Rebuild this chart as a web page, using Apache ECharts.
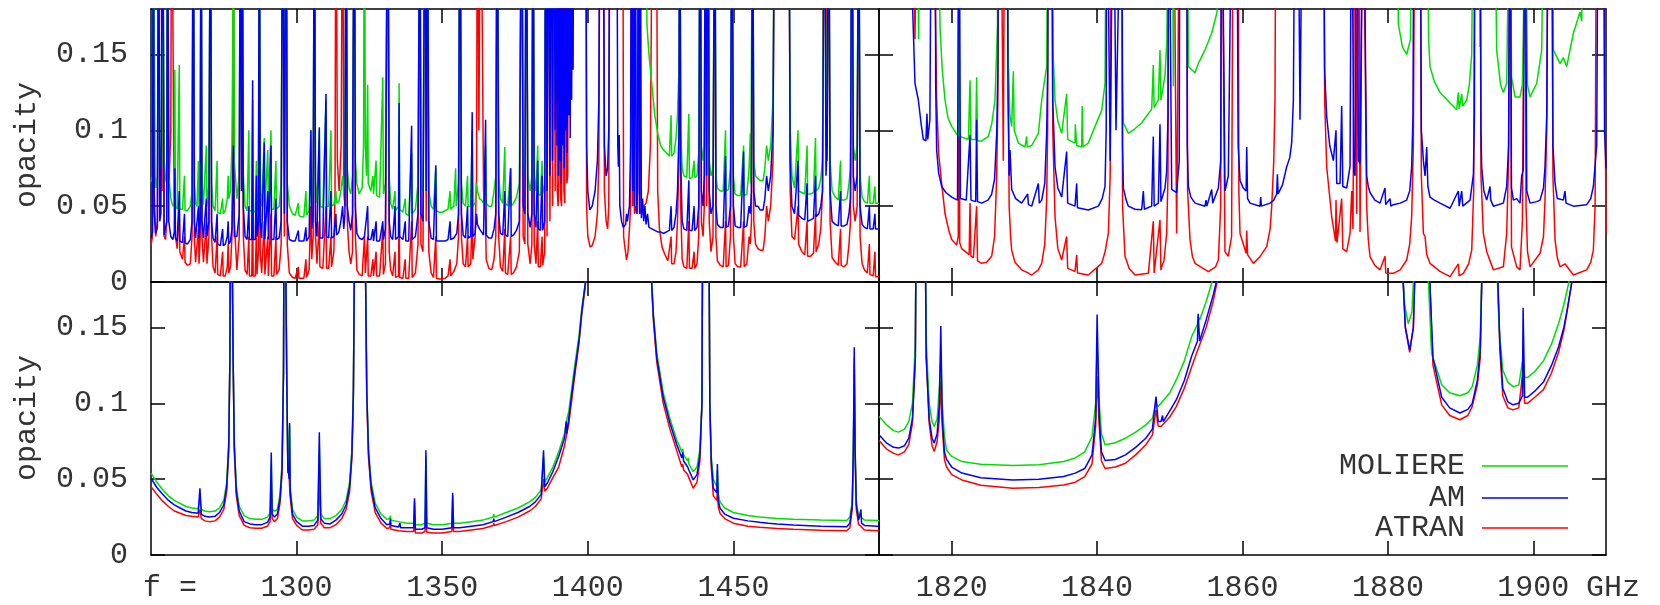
<!DOCTYPE html>
<html><head><meta charset="utf-8">
<script src="https://cdn.jsdelivr.net/npm/echarts@6/dist/echarts.min.js"></script>
<style>html,body{margin:0;padding:0;background:#fff}#c{width:1660px;height:605px}</style>
</head><body><div id="c"></div><script>
// off-scale marker (above the 0.18 axis maximum)
const T = 0.3;
const seriesNames = ['ATRAN', 'MOLIERE', 'AM'];
const yTicks = [0, 0.05, 0.1, 0.15];
const xTicksLeft = [1300, 1350, 1400, 1450];
const xTicksRight = [1820, 1840, 1860, 1880, 1900];

// ---------- top-left panel ----------
const tlBlue = [[1250.0,0.029],[1250.5,0.033],[1250.8,T],[1251.1,0.045],[1251.6,0.032],[1252.2,0.036],[1252.6,T],[1253.0,0.04],[1253.4,0.045],[1254.0,T],[1254.5,0.031],[1255.0,0.03],[1255.4,0.04],[1255.7,T],[1256.1,0.04],[1256.8,0.03],[1257.5,0.028],[1258.0,0.033],[1258.2,0.075],[1258.4,0.029],[1259.0,0.027],[1259.7,0.06],[1259.9,0.027],[1260.8,0.026],[1261.5,0.045],[1261.7,0.026],[1262.5,0.025],[1263.5,0.028],[1264.1,0.04],[1264.5,T],[1264.9,0.04],[1265.3,0.029],[1265.8,0.028],[1266.3,0.05],[1266.5,0.029],[1266.9,0.04],[1267.2,T],[1267.5,0.04],[1268.0,0.029],[1268.5,0.028],[1269.0,0.055],[1269.2,0.03],[1269.9,0.04],[1270.4,T],[1270.8,0.04],[1271.3,0.029],[1272.0,0.026],[1272.7,0.045],[1272.9,0.025],[1273.8,0.024],[1274.6,0.035],[1274.8,0.024],[1275.5,0.025],[1276.2,0.03],[1276.5,0.04],[1276.7,0.025],[1277.3,0.027],[1277.8,0.035],[1278.3,0.09],[1278.6,0.03],[1279.5,0.03],[1280.3,0.045],[1280.7,T],[1281.1,0.06],[1281.3,T],[1281.7,0.05],[1282.3,0.03],[1283.0,0.028],[1283.6,0.05],[1283.8,0.028],[1284.6,0.028],[1284.9,0.133],[1285.1,0.028],[1285.8,0.028],[1286.2,0.07],[1286.4,0.03],[1286.9,0.04],[1287.2,T],[1287.5,0.04],[1288.0,0.029],[1288.9,0.092],[1289.1,0.028],[1289.7,0.028],[1290.1,0.06],[1290.3,0.028],[1291.2,0.09],[1291.4,0.028],[1292.2,0.028],[1292.9,0.055],[1293.1,0.028],[1294.0,0.029],[1294.7,0.04],[1295.2,T],[1295.8,0.045],[1296.4,T],[1296.8,0.04],[1297.5,0.028],[1298.6,0.027],[1299.5,0.027],[1300.6,0.034],[1300.8,0.027],[1301.5,0.027],[1302.5,0.027],[1303.2,0.036],[1303.4,0.027],[1304.3,0.03],[1304.9,0.1],[1305.2,0.035],[1305.7,0.045],[1306.1,T],[1306.5,0.04],[1307.0,0.03],[1307.8,0.102],[1308.0,0.029],[1309.0,0.029],[1310.1,0.124],[1310.3,0.03],[1311.0,0.029],[1311.8,0.06],[1312.0,0.029],[1312.8,0.03],[1313.5,0.045],[1313.7,0.031],[1314.5,0.033],[1315.2,0.04],[1315.8,0.05],[1316.2,0.035],[1316.6,0.045],[1317.0,T],[1317.4,0.05],[1318.0,0.04],[1318.6,0.034],[1319.2,0.045],[1319.8,T],[1320.2,0.05],[1320.7,0.032],[1321.5,0.029],[1322.5,0.028],[1323.3,0.03],[1324.4,0.05],[1324.6,0.028],[1325.5,0.028],[1326.2,0.035],[1326.4,0.027],[1327.3,0.04],[1327.5,0.027],[1328.5,0.027],[1329.6,0.04],[1329.8,0.028],[1330.5,0.035],[1331.3,T],[1331.8,0.04],[1332.3,0.03],[1333.0,0.028],[1333.8,0.05],[1334.0,0.028],[1335.0,0.03],[1335.2,0.118],[1335.4,0.03],[1336.5,0.028],[1337.3,0.04],[1337.5,0.027],[1338.5,0.027],[1339.5,0.103],[1339.7,0.028],[1340.8,0.03],[1341.7,0.045],[1342.3,T],[1342.7,0.045],[1343.4,0.04],[1344.1,T],[1344.5,0.06],[1344.9,T],[1345.4,0.04],[1346.2,0.029],[1347.0,0.028],[1347.8,0.077],[1348.0,0.027],[1349.0,0.027],[1350.0,0.027],[1351.0,0.027],[1352.0,0.028],[1352.7,0.04],[1352.9,0.028],[1354.0,0.029],[1355.0,0.032],[1355.6,0.045],[1356.1,T],[1356.6,0.045],[1357.2,0.031],[1358.0,0.029],[1358.7,0.05],[1358.9,0.029],[1359.8,0.03],[1360.3,0.112],[1360.5,0.03],[1361.3,0.032],[1361.8,0.045],[1362.1,0.038],[1362.8,0.035],[1363.5,0.033],[1364.2,0.031],[1364.9,0.107],[1365.1,0.031],[1366.0,0.029],[1367.0,0.029],[1367.8,0.035],[1368.4,0.045],[1368.9,T],[1369.4,0.045],[1370.0,0.032],[1370.8,0.031],[1371.5,0.06],[1371.7,0.031],[1372.5,0.03],[1373.5,0.075],[1373.7,0.03],[1374.5,0.031],[1375.5,0.034],[1376.5,0.04],[1377.3,T],[1377.8,0.05],[1378.4,0.045],[1378.9,T],[1379.4,0.045],[1380.2,0.036],[1380.8,0.045],[1381.2,T],[1381.6,0.045],[1382.2,0.036],[1382.8,0.08],[1383.0,0.035],[1383.7,0.034],[1384.3,0.07],[1384.5,0.034],[1385.2,0.04],[1385.5,T],[1386.0,0.06],[1386.5,T],[1387.0,0.07],[1387.4,T],[1387.9,0.08],[1388.3,T],[1388.8,0.1],[1389.2,T],[1389.45,0.09],[1389.7,T],[1389.95,0.07],[1390.2,T],[1390.45,0.08],[1390.7,T],[1390.95,0.065],[1391.2,T],[1391.45,0.09],[1391.7,T],[1391.95,0.075],[1392.2,T],[1392.45,0.1],[1392.7,T],[1392.95,0.085],[1393.2,T],[1393.45,0.11],[1393.7,T],[1393.95,0.095],[1394.2,T],[1394.45,0.12],[1394.7,T],[1394.95,0.14],[1395.2,T],[1399.3,T],[1399.6,0.09],[1400.0,0.06],[1400.7,0.0475],[1401.5,0.05],[1402.5,0.06],[1403.3,0.08],[1403.8,0.12],[1404.2,T],[1405.3,T],[1405.7,0.09],[1406.3,0.07],[1406.8,0.075],[1407.2,0.1],[1407.6,T],[1409.9,T],[1410.3,0.09],[1410.5,0.076],[1410.8,0.097],[1411.0,0.05],[1411.6,0.04],[1412.2,0.036],[1413.0,0.038],[1413.3,0.045],[1413.6,0.04],[1414.3,0.05],[1414.7,0.09],[1415.0,T],[1415.4,0.06],[1415.7,T],[1416.0,0.05],[1416.3,T],[1416.7,0.045],[1417.1,0.06],[1417.4,T],[1417.8,0.045],[1418.0,T],[1418.4,0.042],[1418.8,0.055],[1419.2,0.04],[1419.6,0.05],[1420.0,0.038],[1420.5,0.045],[1421.0,0.036],[1422.0,0.035],[1423.0,0.034],[1424.0,0.033],[1425.0,0.033],[1425.9,0.032],[1427.0,0.033],[1428.0,0.034],[1428.6,0.05],[1428.8,0.034],[1429.6,0.036],[1430.3,0.045],[1430.8,0.06],[1431.3,0.1],[1431.6,T],[1431.9,0.08],[1432.4,0.04],[1433.0,0.035],[1434.0,0.034],[1434.7,0.067],[1434.9,0.034],[1435.8,0.034],[1436.5,0.05],[1436.7,0.034],[1437.5,0.036],[1438.1,0.05],[1438.6,T],[1439.0,0.06],[1439.6,0.05],[1440.0,0.07],[1440.4,T],[1440.8,0.07],[1441.3,T],[1441.7,0.06],[1442.3,0.045],[1443.0,0.05],[1443.6,T],[1444.0,0.05],[1444.5,0.038],[1445.5,0.036],[1446.5,0.036],[1447.3,0.083],[1447.5,0.036],[1448.3,0.037],[1449.0,0.05],[1449.5,T],[1450.0,0.05],[1450.6,0.037],[1451.5,0.036],[1452.5,0.036],[1453.5,0.086],[1453.7,0.036],[1454.6,0.037],[1455.4,0.05],[1455.8,0.045],[1456.2,0.06],[1456.6,T],[1457.0,0.06],[1457.6,0.05],[1458.4,0.05],[1459.2,0.0475],[1460.2,0.0475],[1460.8,0.055],[1461.4,0.07],[1462.0,0.06],[1462.8,0.07],[1463.6,0.1],[1464.2,T],[1469.0,T],[1469.5,0.08],[1470.1,0.05],[1471.0,0.045],[1472.2,0.08],[1472.4,0.044],[1473.5,0.042],[1474.5,0.041],[1475.3,0.065],[1475.5,0.04],[1476.5,0.041],[1477.5,0.042],[1478.2,0.07],[1478.4,0.043],[1479.3,0.045],[1480.0,0.05],[1480.6,0.06],[1481.3,T],[1481.8,0.07],[1482.2,0.09],[1482.7,T],[1483.2,0.06],[1483.9,0.04],[1485.0,0.038],[1486.0,0.037],[1486.8,0.06],[1487.0,0.037],[1488.0,0.037],[1489.0,0.038],[1489.7,0.045],[1490.2,0.055],[1490.7,T],[1491.2,0.07],[1491.8,0.06],[1492.5,0.07],[1493.0,T],[1493.5,0.05],[1494.2,0.038],[1495.0,0.036],[1496.0,0.035],[1496.7,0.05],[1496.9,0.035],[1498.0,0.035],[1498.6,0.045],[1498.8,0.035],[1500.0,0.035]];

const tlGreen = [[1250.0,0.066],[1250.5,0.07],[1250.8,T],[1251.1,T],[1251.4,0.07],[1251.7,0.062],[1252.2,0.07],[1252.6,T],[1253.0,0.075],[1253.4,0.09],[1253.7,0.075],[1254.0,T],[1254.5,0.065],[1255.0,0.068],[1255.4,0.08],[1255.7,T],[1256.1,0.07],[1256.8,0.055],[1257.5,0.05],[1258.0,0.052],[1258.2,0.14],[1258.4,0.05],[1259.0,0.048],[1259.7,0.143],[1259.9,0.048],[1260.8,0.048],[1261.5,0.07],[1261.7,0.047],[1262.5,0.047],[1263.5,0.05],[1264.1,0.06],[1264.5,T],[1264.9,0.065],[1265.3,0.052],[1265.8,0.05],[1266.3,0.08],[1266.5,0.05],[1266.9,0.065],[1267.2,T],[1267.5,0.065],[1268.0,0.051],[1268.5,0.05],[1269.0,0.09],[1269.2,0.05],[1269.9,0.065],[1270.4,T],[1270.8,0.065],[1271.3,0.05],[1272.0,0.047],[1272.7,0.08],[1272.9,0.046],[1273.8,0.045],[1274.6,0.055],[1274.8,0.045],[1275.5,0.047],[1276.2,0.055],[1276.5,0.07],[1276.7,0.055],[1277.3,0.06],[1277.8,0.09],[1278.0,0.14],[1278.3,T],[1278.6,0.08],[1279.5,0.055],[1280.3,0.07],[1280.7,T],[1281.1,0.09],[1281.3,T],[1281.7,0.07],[1282.3,0.05],[1283.0,0.047],[1283.6,0.1],[1283.8,0.047],[1284.6,0.047],[1284.9,0.12],[1285.1,0.047],[1285.8,0.046],[1286.2,0.08],[1286.4,0.047],[1286.9,0.06],[1287.2,T],[1287.5,0.06],[1288.0,0.05],[1288.9,0.095],[1289.1,0.048],[1289.7,0.048],[1290.1,0.087],[1290.3,0.048],[1291.2,0.1],[1291.4,0.048],[1292.2,0.048],[1292.9,0.08],[1293.1,0.048],[1294.0,0.05],[1294.7,0.065],[1295.2,T],[1295.8,0.07],[1296.4,T],[1296.8,0.065],[1297.5,0.05],[1298.6,0.045],[1299.5,0.044],[1300.6,0.052],[1300.8,0.044],[1301.5,0.043],[1302.5,0.043],[1303.2,0.06],[1303.4,0.044],[1304.3,0.047],[1304.9,0.1],[1305.2,0.055],[1305.7,0.07],[1306.1,T],[1306.5,0.065],[1307.0,0.052],[1307.8,0.1],[1308.0,0.05],[1309.0,0.049],[1310.1,0.12],[1310.3,0.05],[1311.0,0.05],[1311.8,0.1],[1312.0,0.05],[1312.8,0.051],[1313.5,0.06],[1313.7,0.052],[1314.5,0.053],[1315.2,0.06],[1315.8,0.07],[1316.2,0.058],[1316.6,0.07],[1317.0,T],[1317.4,0.075],[1318.0,0.062],[1318.6,0.058],[1319.2,0.07],[1319.8,T],[1320.2,0.08],[1320.7,0.065],[1321.5,0.058],[1322.5,0.062],[1323.0,0.09],[1323.3,T],[1323.6,0.09],[1324.0,0.07],[1324.4,0.13],[1324.6,0.065],[1325.5,0.06],[1326.2,0.07],[1326.4,0.058],[1327.3,0.08],[1327.5,0.057],[1328.5,0.056],[1329.6,0.135],[1329.8,0.058],[1330.5,0.065],[1331.3,T],[1331.8,0.07],[1332.3,0.052],[1333.0,0.048],[1333.8,0.06],[1334.0,0.047],[1335.0,0.05],[1335.2,0.131],[1335.4,0.048],[1336.5,0.046],[1337.3,0.055],[1337.5,0.045],[1338.5,0.044],[1339.5,0.085],[1339.7,0.045],[1340.8,0.048],[1341.7,0.065],[1342.3,T],[1342.7,0.065],[1343.4,0.06],[1344.1,T],[1344.5,0.08],[1344.9,T],[1345.4,0.06],[1346.2,0.05],[1347.0,0.048],[1347.8,0.075],[1348.0,0.047],[1349.0,0.046],[1350.0,0.046],[1351.0,0.047],[1352.0,0.048],[1352.7,0.06],[1352.9,0.048],[1354.0,0.05],[1354.6,0.075],[1354.8,0.05],[1355.6,0.065],[1356.1,T],[1356.6,0.065],[1357.2,0.052],[1358.0,0.05],[1358.7,0.07],[1358.9,0.05],[1359.8,0.05],[1360.3,0.1],[1360.5,0.05],[1361.3,0.052],[1361.8,0.065],[1362.1,0.06],[1362.8,0.055],[1363.5,0.054],[1364.2,0.052],[1364.9,0.09],[1365.1,0.052],[1366.0,0.05],[1367.0,0.05],[1367.8,0.06],[1368.4,0.07],[1368.9,T],[1369.4,0.07],[1370.0,0.055],[1370.8,0.052],[1371.5,0.089],[1371.7,0.052],[1372.5,0.05],[1373.5,0.075],[1373.7,0.05],[1374.5,0.052],[1375.5,0.056],[1376.5,0.065],[1377.3,T],[1377.8,0.075],[1378.4,0.07],[1378.9,T],[1379.4,0.07],[1380.2,0.06],[1380.8,0.07],[1381.2,T],[1381.6,0.07],[1382.2,0.06],[1382.8,0.09],[1383.0,0.058],[1383.7,0.057],[1384.3,0.08],[1384.5,0.058],[1385.2,0.065],[1385.5,T],[1386.0,0.08],[1386.5,T],[1387.0,0.09],[1387.4,T],[1387.9,0.1],[1388.3,T],[1388.8,0.12],[1389.2,T],[1420.0,T],[1420.3,0.17],[1421.0,0.15],[1422.0,0.13],[1423.0,0.11],[1424.0,0.098],[1425.0,0.09],[1426.0,0.087],[1427.0,0.085],[1428.0,0.083],[1428.6,0.11],[1428.8,0.083],[1429.6,0.085],[1430.3,0.095],[1430.8,0.11],[1431.3,0.14],[1431.6,T],[1431.9,0.1],[1432.4,0.075],[1433.0,0.07],[1434.0,0.069],[1434.7,0.111],[1434.9,0.068],[1435.8,0.069],[1436.5,0.08],[1436.7,0.069],[1437.5,0.07],[1438.1,0.085],[1438.6,T],[1439.0,0.09],[1439.6,0.08],[1440.0,0.09],[1440.4,T],[1440.8,0.09],[1441.3,T],[1441.7,0.08],[1442.3,0.07],[1443.0,0.075],[1443.6,T],[1444.0,0.07],[1444.5,0.062],[1445.5,0.06],[1446.5,0.06],[1447.3,0.1],[1447.5,0.06],[1448.3,0.061],[1449.0,0.075],[1449.5,T],[1450.0,0.07],[1450.6,0.058],[1451.5,0.057],[1452.5,0.057],[1453.5,0.09],[1453.7,0.057],[1454.6,0.058],[1455.4,0.075],[1455.8,0.098],[1456.0,0.065],[1456.6,T],[1457.0,0.08],[1457.6,0.07],[1458.4,0.068],[1459.2,0.067],[1460.2,0.067],[1460.8,0.075],[1461.4,0.09],[1462.0,0.08],[1462.8,0.09],[1463.6,0.12],[1464.2,T],[1469.0,T],[1469.5,0.1],[1470.1,0.07],[1471.0,0.062],[1472.2,0.1],[1472.4,0.06],[1473.5,0.059],[1474.5,0.058],[1475.3,0.09],[1475.5,0.058],[1476.5,0.058],[1477.5,0.059],[1478.2,0.095],[1478.4,0.06],[1479.3,0.062],[1480.0,0.068],[1480.6,0.08],[1481.3,T],[1481.8,0.09],[1482.2,0.11],[1482.7,T],[1483.2,0.08],[1483.9,0.06],[1485.0,0.056],[1486.0,0.054],[1486.8,0.08],[1487.0,0.054],[1488.0,0.054],[1489.0,0.055],[1489.7,0.065],[1490.2,0.075],[1490.7,T],[1491.2,0.09],[1491.8,0.08],[1492.5,0.09],[1493.0,T],[1493.5,0.07],[1494.2,0.056],[1495.0,0.053],[1496.0,0.052],[1496.7,0.07],[1496.9,0.052],[1498.0,0.052],[1498.6,0.063],[1498.8,0.052],[1500.0,0.052]];

const tlRed = [[1250.0,0.024],[1250.5,0.03],[1250.8,T],[1251.1,0.06],[1251.6,0.03],[1252.2,0.04],[1252.6,T],[1253.4,T],[1253.8,0.06],[1254.0,T],[1254.5,0.03],[1255.0,0.028],[1255.4,0.04],[1255.7,T],[1256.1,0.06],[1256.8,0.1],[1257.1,T],[1257.6,T],[1257.9,0.06],[1258.4,0.03],[1259.0,0.022],[1259.7,0.05],[1259.9,0.02],[1260.8,0.015],[1261.5,0.03],[1261.7,0.013],[1262.5,0.011],[1263.5,0.012],[1264.1,0.03],[1264.5,T],[1264.9,0.03],[1265.3,0.013],[1265.8,0.012],[1266.3,0.035],[1266.5,0.012],[1266.9,0.03],[1267.2,T],[1267.5,0.03],[1268.0,0.013],[1268.5,0.012],[1269.0,0.04],[1269.2,0.012],[1269.9,0.03],[1270.4,T],[1270.8,0.03],[1271.3,0.01],[1272.0,0.006],[1272.7,0.03],[1272.9,0.005],[1273.8,0.004],[1274.6,0.02],[1274.8,0.004],[1275.5,0.004],[1276.2,0.01],[1276.5,0.025],[1276.7,0.006],[1277.3,0.01],[1277.8,0.03],[1278.0,0.06],[1278.3,T],[1278.6,0.04],[1279.5,0.008],[1280.3,0.03],[1280.7,T],[1281.1,0.06],[1281.3,T],[1281.7,0.03],[1282.3,0.008],[1283.0,0.005],[1283.6,0.03],[1283.8,0.004],[1284.6,0.004],[1284.9,0.05],[1285.1,0.004],[1285.8,0.004],[1286.2,0.035],[1286.4,0.005],[1286.9,0.02],[1287.2,T],[1287.5,0.02],[1288.0,0.006],[1288.9,0.04],[1289.1,0.005],[1289.7,0.004],[1290.1,0.03],[1290.3,0.004],[1291.2,0.045],[1291.4,0.004],[1292.2,0.004],[1292.9,0.03],[1293.1,0.005],[1294.0,0.008],[1294.7,0.025],[1295.2,T],[1295.8,0.03],[1296.4,T],[1296.8,0.025],[1297.5,0.006],[1298.6,0.003],[1299.5,0.0025],[1300.6,0.01],[1300.8,0.0025],[1301.5,0.0025],[1302.5,0.0025],[1303.2,0.015],[1303.4,0.003],[1304.3,0.008],[1304.9,0.05],[1305.2,0.015],[1305.7,0.03],[1306.1,T],[1306.5,0.03],[1307.0,0.012],[1307.8,0.04],[1308.0,0.01],[1309.0,0.009],[1310.1,0.05],[1310.3,0.009],[1311.0,0.009],[1311.8,0.03],[1312.0,0.01],[1312.8,0.02],[1313.2,0.06],[1313.5,T],[1314.0,0.08],[1314.6,0.06],[1315.3,0.09],[1315.8,T],[1316.2,0.06],[1316.6,0.05],[1317.0,T],[1317.4,0.04],[1318.0,0.02],[1318.6,0.012],[1319.2,0.02],[1319.8,T],[1320.2,0.03],[1320.7,0.008],[1321.5,0.005],[1322.5,0.004],[1323.3,0.03],[1323.6,0.006],[1324.4,0.03],[1324.6,0.004],[1325.5,0.004],[1326.2,0.015],[1326.4,0.004],[1327.3,0.02],[1327.5,0.004],[1328.5,0.004],[1329.6,0.035],[1329.8,0.005],[1330.5,0.012],[1331.3,T],[1331.8,0.02],[1332.3,0.008],[1333.0,0.004],[1333.8,0.02],[1334.0,0.003],[1335.0,0.004],[1335.2,0.05],[1335.4,0.003],[1336.5,0.0025],[1337.3,0.015],[1337.5,0.0025],[1338.5,0.0025],[1339.5,0.04],[1339.7,0.003],[1340.8,0.006],[1341.7,0.025],[1342.3,T],[1342.7,0.025],[1343.4,0.02],[1344.1,T],[1344.5,0.04],[1344.9,T],[1345.4,0.02],[1346.2,0.006],[1347.0,0.003],[1347.8,0.03],[1348.0,0.0025],[1349.0,0.002],[1350.0,0.002],[1351.0,0.0025],[1352.0,0.004],[1352.7,0.015],[1352.9,0.004],[1354.0,0.007],[1355.0,0.012],[1355.6,0.03],[1356.1,T],[1356.6,0.03],[1357.2,0.012],[1358.0,0.01],[1358.7,0.03],[1358.9,0.01],[1359.8,0.012],[1360.3,0.05],[1360.5,0.015],[1361.3,0.03],[1361.8,0.07],[1362.1,T],[1362.6,0.1],[1363.2,T],[1363.8,T],[1364.2,0.06],[1364.9,0.04],[1365.1,0.015],[1366.0,0.009],[1367.0,0.008],[1367.8,0.015],[1368.4,0.03],[1368.9,T],[1369.4,0.03],[1370.0,0.01],[1370.8,0.007],[1371.5,0.035],[1371.7,0.006],[1372.5,0.005],[1373.5,0.03],[1373.7,0.005],[1374.5,0.006],[1375.5,0.01],[1376.5,0.02],[1377.3,T],[1377.8,0.03],[1378.4,0.025],[1378.9,T],[1379.4,0.025],[1380.2,0.012],[1380.8,0.025],[1381.2,T],[1381.6,0.025],[1382.2,0.012],[1382.8,0.04],[1383.0,0.01],[1383.7,0.01],[1384.3,0.03],[1384.5,0.011],[1385.2,0.02],[1385.5,T],[1386.0,0.03],[1386.5,T],[1387.0,0.04],[1387.4,T],[1387.9,0.05],[1388.3,T],[1388.8,0.06],[1389.2,T],[1389.5,0.06],[1389.8,0.05],[1390.1,0.07],[1390.4,T],[1390.7,0.055],[1391.0,0.05],[1391.4,T],[1391.8,0.06],[1392.1,0.052],[1392.4,T],[1392.8,0.065],[1393.1,0.07],[1393.4,T],[1399.3,T],[1399.6,0.05],[1400.0,0.03],[1400.8,0.023],[1401.5,0.024],[1402.5,0.03],[1403.3,0.045],[1403.8,0.08],[1404.2,T],[1405.3,T],[1405.7,0.06],[1406.3,0.04],[1406.8,0.035],[1407.2,0.05],[1407.6,T],[1412.0,T],[1412.3,0.03],[1412.8,0.022],[1413.3,0.0145],[1413.8,0.02],[1414.3,0.035],[1414.7,0.05],[1415.0,T],[1415.4,0.05],[1415.7,T],[1416.0,0.045],[1416.5,0.05],[1417.0,0.045],[1417.4,T],[1417.8,0.045],[1418.4,0.048],[1419.2,0.05],[1420.0,0.052],[1420.8,0.06],[1421.5,0.09],[1422.3,T],[1423.5,T],[1424.0,0.06],[1424.6,0.035],[1425.5,0.023],[1426.5,0.018],[1427.5,0.014],[1428.6,0.03],[1428.8,0.012],[1429.6,0.012],[1430.3,0.02],[1430.8,0.04],[1431.3,0.08],[1431.6,T],[1431.9,0.05],[1432.4,0.015],[1433.0,0.01],[1434.0,0.009],[1434.7,0.04],[1434.9,0.009],[1435.8,0.009],[1436.5,0.02],[1436.7,0.009],[1437.5,0.012],[1438.1,0.03],[1438.6,T],[1439.0,0.04],[1439.6,0.03],[1440.0,0.05],[1440.4,T],[1440.8,0.05],[1441.3,T],[1441.7,0.04],[1442.3,0.02],[1443.0,0.03],[1443.6,T],[1444.0,0.03],[1444.5,0.014],[1445.5,0.011],[1446.5,0.01],[1447.3,0.04],[1447.5,0.01],[1448.3,0.011],[1449.0,0.03],[1449.5,T],[1450.0,0.03],[1450.6,0.012],[1451.5,0.01],[1452.5,0.01],[1453.5,0.04],[1453.7,0.01],[1454.6,0.012],[1455.4,0.03],[1455.8,0.025],[1456.2,0.04],[1456.6,T],[1457.0,0.04],[1457.6,0.025],[1458.4,0.022],[1459.2,0.021],[1460.2,0.021],[1460.8,0.03],[1461.4,0.05],[1462.0,0.04],[1462.8,0.05],[1463.6,0.08],[1464.2,T],[1469.0,T],[1469.5,0.06],[1470.1,0.03],[1471.0,0.028],[1472.2,0.05],[1472.4,0.025],[1473.5,0.02],[1474.5,0.018],[1475.3,0.04],[1475.5,0.017],[1476.5,0.017],[1477.5,0.019],[1478.2,0.045],[1478.4,0.02],[1479.3,0.025],[1480.0,0.035],[1480.6,0.06],[1481.0,T],[1481.8,T],[1482.2,0.08],[1482.7,T],[1483.2,0.04],[1483.9,0.016],[1485.0,0.013],[1486.0,0.011],[1486.8,0.035],[1487.0,0.011],[1488.0,0.01],[1489.0,0.012],[1489.7,0.025],[1490.2,0.04],[1490.7,T],[1491.2,0.05],[1491.8,0.04],[1492.5,0.05],[1493.0,T],[1493.5,0.03],[1494.2,0.012],[1495.0,0.008],[1496.0,0.006],[1496.7,0.025],[1496.9,0.005],[1498.0,0.004],[1498.6,0.02],[1498.8,0.0035],[1500.0,0.0035]];

// ---------- top-right panel ----------
const trBlue = [[1810,T],[1814.4,T],[1814.5,0.2],[1814.95,0.131],[1815.41,0.12],[1815.8,0.104],[1816.1,0.094],[1816.45,0.093],[1816.6,0.111],[1816.7,0.094],[1817.0,0.107],[1817.24,T],[1817.7,T],[1817.8,0.13],[1817.93,0.087],[1818.2,0.072],[1818.62,0.063],[1819.2,0.059],[1820.0,0.056],[1820.8,0.054],[1821.0,T],[1821.2,0.055],[1822.0,0.054],[1822.52,0.097],[1822.65,0.054],[1823.3,0.053],[1823.43,0.107],[1823.55,0.053],[1824.12,0.052],[1825.0,0.054],[1825.5,0.058],[1825.9,0.068],[1826.19,0.098],[1826.35,0.14],[1826.45,T],[1827.6,T],[1827.75,0.12],[1827.9,0.07],[1828.02,0.087],[1828.25,0.061],[1828.8,0.055],[1829.62,0.052],[1830.45,0.058],[1830.55,0.051],[1831.0,0.05],[1831.92,0.065],[1832.05,0.052],[1832.38,0.054],[1832.8,0.065],[1833.06,0.098],[1833.2,0.14],[1833.29,T],[1833.75,T],[1833.9,0.12],[1834.21,0.076],[1834.6,0.062],[1835.13,0.056],[1835.81,0.086],[1835.95,0.052],[1836.96,0.05],[1837.19,0.065],[1837.3,0.049],[1838.79,0.0475],[1840.17,0.05],[1840.7,0.055],[1841.09,0.063],[1841.25,0.1],[1841.32,T],[1841.8,0.08],[1842.23,T],[1842.6,0.1],[1843.38,T],[1843.5,0.09],[1843.61,0.062],[1844.0,0.054],[1844.3,0.05],[1845.21,0.048],[1846.13,0.0476],[1846.36,0.06],[1846.5,0.048],[1847.51,0.05],[1847.73,0.096],[1847.85,0.05],[1848.42,0.052],[1848.65,0.104],[1848.78,0.053],[1849.34,0.062],[1849.57,0.073],[1849.75,0.11],[1849.85,T],[1850.1,T],[1850.26,0.061],[1850.94,0.059],[1851.3,0.08],[1851.4,T],[1852.32,T],[1852.4,0.09],[1852.55,0.063],[1852.9,0.056],[1853.47,0.052],[1854.84,0.05],[1854.98,0.054],[1855.1,0.05],[1855.76,0.061],[1855.9,0.052],[1856.68,0.062],[1857.0,0.08],[1857.13,T],[1857.4,T],[1857.59,0.06],[1858.05,0.07],[1858.6,T],[1859.2,T],[1859.4,0.09],[1859.66,0.067],[1860.1,0.062],[1860.5,0.06],[1860.58,0.089],[1860.7,0.055],[1861.04,0.052],[1862.41,0.05],[1862.5,0.056],[1862.6,0.05],[1863.79,0.052],[1864.3,0.054],[1864.7,0.058],[1864.8,0.071],[1864.9,0.058],[1865.5,0.064],[1866.08,0.076],[1866.5,0.082],[1866.77,0.092],[1867.0,0.12],[1867.23,T],[1867.6,T],[1867.91,0.107],[1868.3,T],[1871.12,T],[1871.3,0.14],[1871.58,0.109],[1872.0,0.09],[1872.5,0.08],[1872.86,0.1],[1872.96,0.065],[1873.42,0.065],[1873.64,0.116],[1873.8,0.063],[1874.33,0.062],[1874.79,0.076],[1875.02,T],[1875.3,0.073],[1875.48,0.07],[1875.71,T],[1875.95,0.08],[1876.17,0.078],[1876.6,T],[1876.85,T],[1877.08,0.07],[1877.3,0.063],[1877.54,0.059],[1878.2,0.054],[1878.92,0.052],[1879.6,0.062],[1879.7,0.051],[1880.29,0.055],[1880.4,0.05],[1880.75,0.051],[1881.7,0.052],[1882.58,0.054],[1883.0,0.06],[1883.27,0.076],[1883.45,0.11],[1883.6,T],[1884.42,T],[1884.6,0.1],[1884.88,0.08],[1885.11,0.07],[1885.34,0.089],[1885.5,0.063],[1885.79,0.056],[1886.4,0.054],[1887.17,0.052],[1888.55,0.0486],[1889.69,0.06],[1889.8,0.05],[1890.15,0.06],[1890.3,0.05],[1891.3,0.054],[1891.76,0.071],[1891.9,0.11],[1891.98,T],[1892.67,T],[1892.8,0.1],[1892.9,0.076],[1893.2,0.06],[1893.59,0.054],[1894.05,0.063],[1894.15,0.054],[1894.51,0.05],[1895.88,0.052],[1896.34,0.063],[1896.6,0.09],[1896.8,T],[1897.0,0.062],[1897.26,0.054],[1897.72,0.055],[1898.17,0.052],[1898.4,0.07],[1898.63,0.074],[1898.86,T],[1899.1,0.06],[1899.55,0.052],[1900.47,0.053],[1900.93,0.054],[1901.4,0.062],[1901.61,0.076],[1901.85,0.11],[1902.07,T],[1902.53,T],[1902.7,0.09],[1902.99,0.065],[1903.22,0.064],[1903.3,0.055],[1904.13,0.054],[1904.36,0.06],[1904.5,0.052],[1905.51,0.05],[1907.34,0.051],[1907.9,0.055],[1908.26,0.063],[1908.72,0.09],[1908.95,T],[1909.64,T],[1909.8,0.1],[1910,0.075]];

const trGreen = [[1810,T],[1815.2,T],[1815.45,0.16],[1815.7,T],[1818.1,T],[1818.39,0.168],[1818.7,0.14],[1819.08,0.12],[1819.5,0.108],[1820.0,0.1026],[1820.91,0.096],[1821.0,T],[1821.1,0.096],[1822.3,0.094],[1822.52,0.133],[1822.65,0.094],[1823.3,0.094],[1823.43,0.135],[1823.55,0.093],[1824.12,0.093],[1825.04,0.096],[1825.5,0.104],[1825.96,0.12],[1826.3,0.17],[1826.4,T],[1827.6,T],[1827.75,0.15],[1828.0,0.11],[1828.25,0.1026],[1828.48,0.139],[1828.6,0.1],[1829.17,0.0916],[1830.08,0.089],[1830.31,0.096],[1830.4,0.089],[1831.0,0.09],[1831.92,0.098],[1832.38,0.12],[1833.06,0.142],[1833.29,T],[1833.75,T],[1833.95,0.15],[1834.21,0.12],[1834.6,0.106],[1835.13,0.098],[1835.81,0.124],[1835.95,0.094],[1836.96,0.0916],[1837.0,0.104],[1837.2,0.09],[1837.88,0.089],[1837.95,0.116],[1838.05,0.089],[1838.79,0.0916],[1839.71,0.1026],[1840.63,0.113],[1841.09,0.131],[1841.3,T],[1843.4,T],[1843.5,0.13],[1843.61,0.105],[1844.3,0.098],[1845.21,0.101],[1846.13,0.105],[1847.51,0.114],[1847.73,0.143],[1847.85,0.115],[1848.42,0.12],[1848.65,0.153],[1848.78,0.12],[1849.34,0.136],[1849.6,0.16],[1849.85,T],[1850.3,T],[1850.49,0.129],[1850.7,T],[1852.4,T],[1852.55,0.142],[1853.47,0.138],[1853.92,0.144],[1854.84,0.153],[1855.76,0.164],[1856.5,0.178],[1856.7,T],[1881.21,T],[1881.44,0.17],[1882.0,0.155],[1882.58,0.15],[1883.1,0.16],[1883.4,T],[1885.34,T],[1885.6,0.16],[1885.79,0.142],[1886.4,0.132],[1887.17,0.125],[1888.55,0.118],[1889.46,0.1136],[1889.69,0.125],[1889.8,0.114],[1890.15,0.124],[1890.3,0.116],[1890.84,0.12],[1891.2,0.13],[1891.53,0.15],[1891.8,T],[1892.6,T],[1892.67,0.155],[1892.8,T],[1894.6,T],[1894.96,0.153],[1895.5,0.13],[1895.88,0.125],[1896.34,0.131],[1896.8,T],[1897.0,0.135],[1897.5,0.122],[1898.17,0.122],[1898.5,0.13],[1898.63,0.16],[1898.86,T],[1899.2,0.13],[1899.55,0.122],[1900.47,0.131],[1901.16,0.153],[1901.5,T],[1902.53,T],[1902.76,0.153],[1903.68,0.144],[1904.13,0.148],[1904.59,0.142],[1905.51,0.164],[1906.43,0.178],[1906.66,0.172],[1906.88,T],[1910,T]];

const trRed = [[1810,T],[1814.6,T],[1814.95,0.16],[1815.3,T],[1817.47,T],[1817.7,0.2],[1817.93,0.12],[1818.2,0.085],[1818.62,0.065],[1819.08,0.045],[1819.6,0.034],[1820.0,0.028],[1820.68,0.0244],[1820.9,0.03],[1821.0,T],[1821.1,0.026],[1821.37,0.022],[1822.4,0.018],[1822.52,0.052],[1822.65,0.017],[1822.98,0.016],[1823.43,0.05],[1823.55,0.014],[1824.12,0.0123],[1824.8,0.013],[1825.5,0.017],[1825.9,0.03],[1826.19,0.07],[1826.35,0.12],[1826.5,T],[1826.9,0.2],[1827.1,0.08],[1827.3,T],[1827.6,T],[1827.9,0.05],[1828.1,0.03],[1828.25,0.021],[1828.7,0.013],[1829.62,0.008],[1830.5,0.006],[1831.0,0.0046],[1831.92,0.008],[1832.38,0.0123],[1832.8,0.025],[1833.06,0.054],[1833.2,0.1],[1833.29,T],[1833.75,T],[1833.9,0.1],[1834.21,0.043],[1834.6,0.022],[1835.13,0.0145],[1835.81,0.03],[1835.95,0.009],[1836.96,0.007],[1837.19,0.018],[1837.3,0.006],[1838.79,0.0046],[1840.63,0.0123],[1841.1,0.02],[1841.55,0.032],[1841.8,0.07],[1842.0,T],[1843.4,T],[1843.5,0.05],[1843.84,0.017],[1844.4,0.009],[1845.21,0.0046],[1847.05,0.0057],[1847.73,0.04],[1847.85,0.006],[1848.65,0.041],[1848.78,0.0078],[1848.88,0.0101],[1849.2,0.014],[1849.57,0.032],[1849.75,0.07],[1849.85,T],[1850.5,T],[1850.94,0.032],[1851.4,T],[1852.32,T],[1852.45,0.06],[1852.78,0.028],[1853.1,0.017],[1853.47,0.0123],[1855.3,0.0068],[1856.3,0.01],[1856.68,0.0145],[1857.0,0.05],[1857.13,T],[1857.4,T],[1857.59,0.02],[1858.05,0.017],[1858.5,0.03],[1858.74,T],[1859.4,T],[1859.5,0.06],[1859.66,0.032],[1860.5,0.019],[1860.58,0.034],[1860.7,0.018],[1861.49,0.0123],[1862.41,0.0167],[1863.33,0.0233],[1863.8,0.035],[1864.02,0.05],[1864.3,0.08],[1864.47,0.12],[1864.61,T],[1871.12,T],[1871.3,0.12],[1871.58,0.076],[1872.27,0.043],[1872.8,0.027],[1872.86,0.054],[1873.0,0.026],[1873.64,0.055],[1873.8,0.022],[1874.33,0.02],[1874.79,0.032],[1875.02,0.06],[1875.2,0.035],[1875.48,T],[1875.71,0.045],[1875.95,T],[1876.17,0.033],[1876.6,T],[1876.85,T],[1877.0,0.08],[1877.08,0.05],[1877.3,0.028],[1877.54,0.0167],[1878.2,0.011],[1878.92,0.008],[1879.6,0.017],[1879.7,0.006],[1880.75,0.0057],[1881.7,0.008],[1882.58,0.0145],[1883.0,0.025],[1883.27,0.043],[1883.5,0.09],[1883.73,T],[1884.42,T],[1884.6,0.07],[1884.88,0.032],[1885.11,0.03],[1885.34,0.018],[1885.79,0.0123],[1887.17,0.007],[1888.55,0.0035],[1889.69,0.012],[1889.8,0.004],[1890.38,0.0057],[1891.1,0.012],[1891.53,0.021],[1891.8,0.06],[1891.98,T],[1892.67,T],[1892.8,0.07],[1893.13,0.032],[1893.59,0.02],[1894.51,0.008],[1895.88,0.01],[1896.34,0.032],[1896.6,0.08],[1896.8,T],[1897.0,0.023],[1897.26,0.0233],[1897.72,0.01],[1898.17,0.008],[1898.5,0.04],[1898.86,T],[1899.0,0.05],[1899.2,0.02],[1899.55,0.01],[1900.93,0.019],[1901.4,0.03],[1901.61,0.054],[1901.85,0.1],[1902.07,T],[1902.53,T],[1902.7,0.07],[1902.99,0.028],[1903.3,0.016],[1903.68,0.01],[1904.36,0.012],[1905.51,0.0046],[1907.34,0.008],[1907.9,0.013],[1908.26,0.021],[1908.5,0.05],[1908.72,T],[1909.64,T],[1910,0.032]];

// ---------- bottom-left panel ----------
const blGreen = [[1250,0.054],[1252,0.048],[1254,0.043],[1256,0.039],[1258,0.036],[1260,0.034],[1262,0.032],[1264,0.031],[1266.2,0.0305],[1266.8,0.037],[1267.3,0.03],[1268.5,0.029],[1270,0.0285],[1272,0.029],[1273.5,0.031],[1275,0.036],[1276,0.048],[1276.7,0.075],[1277.1,0.13],[1277.4,T],[1277.9,T],[1278.2,0.13],[1278.6,0.075],[1279.3,0.045],[1280.3,0.032],[1282,0.026],[1284,0.024],[1286,0.0235],[1288,0.0235],[1290,0.025],[1290.9,0.028],[1291.3,0.06],[1291.6,0.03],[1292.4,0.029],[1293.4,0.03],[1294.3,0.04],[1295,0.06],[1295.5,0.12],[1295.8,T],[1296.3,T],[1296.6,0.12],[1297,0.06],[1297.5,0.06],[1297.6,0.085],[1297.8,0.045],[1298.6,0.03],[1300,0.025],[1302,0.0225],[1304,0.0225],[1306,0.023],[1307.3,0.026],[1307.8,0.07],[1308.3,0.027],[1309.5,0.024],[1311.5,0.024],[1313.5,0.026],[1315.5,0.03],[1317,0.036],[1318.2,0.048],[1319,0.07],[1319.5,0.11],[1319.8,0.18],[1320.2,T],[1323.3,T],[1323.7,0.18],[1324.1,0.11],[1324.7,0.07],[1325.6,0.048],[1327,0.034],[1329,0.027],[1331,0.0235],[1332,0.024],[1332.2,0.026],[1332.4,0.023],[1335,0.022],[1338,0.021],[1340.2,0.021],[1340.5,0.035],[1340.8,0.02],[1343,0.02],[1344.1,0.021],[1344.4,0.065],[1344.7,0.021],[1347,0.02],[1350,0.02],[1353.3,0.021],[1353.6,0.039],[1353.9,0.021],[1356,0.021],[1360,0.022],[1364,0.023],[1367.5,0.025],[1367.7,0.027],[1367.9,0.025],[1372,0.028],[1376,0.031],[1380,0.035],[1382,0.038],[1384,0.043],[1384.8,0.065],[1385.2,0.048],[1386.1,0.051],[1388,0.058],[1390,0.068],[1392,0.08],[1392.6,0.088],[1393.5,0.095],[1395.3,0.122],[1397,0.145],[1397.9,0.162],[1399.2,0.18],[1400,0.2],[1401,T],[1420,T],[1421.4,0.2],[1422.5,0.16],[1423.7,0.133],[1425.9,0.107],[1428.2,0.09],[1430.5,0.076],[1432.3,0.068],[1432.6,0.07],[1432.9,0.066],[1434.3,0.062],[1434.5,0.064],[1434.7,0.06],[1436.2,0.055],[1437.5,0.058],[1438.5,0.07],[1439.2,0.1],[1439.6,T],[1441.4,T],[1441.9,0.1],[1442.4,0.065],[1443.1,0.05],[1444.3,0.045],[1444.5,0.056],[1444.8,0.04],[1445.4,0.035],[1447,0.031],[1450,0.028],[1455,0.026],[1459,0.025],[1465,0.024],[1470.6,0.0236],[1480,0.023],[1488.9,0.0227],[1490,0.025],[1490.8,0.035],[1491.2,0.07],[1491.5,0.13],[1491.8,0.07],[1492.2,0.035],[1493,0.026],[1493.8,0.025],[1495,0.023],[1499.4,0.0227],[1500,0.0227]];

const blBlue = [[1250,0.0507],[1252,0.0445],[1254,0.04],[1256,0.036],[1258,0.033],[1260,0.031],[1262,0.029],[1264,0.028],[1266.2,0.0275],[1266.8,0.044],[1267.3,0.027],[1268.5,0.0255],[1270,0.025],[1272,0.0255],[1273.5,0.028],[1275,0.033],[1276,0.045],[1276.7,0.072],[1277.1,0.13],[1277.4,T],[1277.9,T],[1278.2,0.13],[1278.6,0.072],[1279.3,0.042],[1280.3,0.029],[1282,0.022],[1284,0.0205],[1286,0.02],[1288,0.02],[1290,0.0215],[1290.9,0.025],[1291.3,0.0676],[1291.6,0.027],[1292.4,0.025],[1293.4,0.027],[1294.3,0.037],[1295,0.057],[1295.5,0.12],[1295.8,T],[1296.3,T],[1296.6,0.12],[1297,0.057],[1297.5,0.05],[1297.6,0.087],[1297.8,0.042],[1298.6,0.027],[1300,0.022],[1302,0.019],[1304,0.019],[1306,0.0195],[1307.3,0.023],[1307.8,0.081],[1308.3,0.024],[1309.5,0.021],[1311.5,0.0205],[1313.5,0.023],[1315.5,0.027],[1317,0.033],[1318.2,0.045],[1319,0.067],[1319.5,0.107],[1319.8,0.18],[1320.2,T],[1323.3,T],[1323.7,0.18],[1324.1,0.107],[1324.7,0.067],[1325.6,0.045],[1327,0.031],[1329,0.024],[1331,0.02],[1332,0.0205],[1332.2,0.024],[1332.4,0.0195],[1335,0.0185],[1335.5,0.021],[1335.7,0.018],[1338,0.018],[1340.2,0.018],[1340.5,0.0374],[1340.8,0.017],[1343,0.017],[1344.1,0.018],[1344.4,0.069],[1344.7,0.018],[1347,0.017],[1350,0.017],[1353.3,0.018],[1353.6,0.041],[1353.9,0.018],[1356,0.018],[1360,0.019],[1364,0.02],[1367.5,0.022],[1367.7,0.024],[1367.9,0.022],[1372,0.025],[1376,0.028],[1380,0.032],[1382,0.035],[1384,0.04],[1384.8,0.069],[1385.2,0.045],[1386.1,0.0475],[1388,0.055],[1390,0.065],[1392,0.077],[1392.6,0.088],[1392.8,0.08],[1393.5,0.091],[1395.3,0.118],[1397,0.142],[1397.9,0.16],[1399.2,0.18],[1400,0.2],[1401,T],[1420,T],[1421.4,0.2],[1422.5,0.158],[1423.7,0.13],[1425.9,0.104],[1428.2,0.087],[1430.5,0.073],[1432.3,0.064],[1432.6,0.0676],[1432.9,0.062],[1434.3,0.058],[1434.5,0.059],[1434.7,0.056],[1436.2,0.0495],[1437.5,0.053],[1438.5,0.066],[1439.2,0.1],[1439.6,T],[1441.4,T],[1441.9,0.1],[1442.4,0.062],[1443.1,0.044],[1444.3,0.041],[1444.5,0.06],[1444.8,0.036],[1445.4,0.031],[1447,0.027],[1450,0.0242],[1455,0.0225],[1459,0.0216],[1462,0.021],[1462.2,0.022],[1462.4,0.021],[1465,0.0205],[1470.6,0.0198],[1480,0.019],[1488.9,0.0187],[1490,0.021],[1490.8,0.033],[1491.2,0.07],[1491.5,0.137],[1491.8,0.07],[1492.2,0.033],[1493,0.023],[1493.6,0.022],[1493.8,0.03],[1494,0.021],[1495,0.0195],[1499.4,0.019],[1500,0.019]];

const blRed = [[1250,0.0451],[1252,0.04],[1254,0.0355],[1256,0.032],[1258,0.029],[1260,0.0275],[1262,0.026],[1264,0.0255],[1266.2,0.025],[1266.8,0.03],[1267.3,0.024],[1268.5,0.0225],[1270,0.022],[1272,0.0225],[1273.5,0.025],[1275,0.03],[1276,0.042],[1276.7,0.069],[1277.1,0.13],[1277.4,T],[1277.9,T],[1278.2,0.13],[1278.6,0.069],[1279.3,0.039],[1280.3,0.026],[1282,0.0195],[1284,0.018],[1286,0.0176],[1288,0.0176],[1290,0.019],[1290.9,0.022],[1291.3,0.045],[1291.6,0.024],[1292.4,0.022],[1293.4,0.024],[1294.3,0.034],[1295,0.054],[1295.5,0.12],[1295.8,T],[1296.3,T],[1296.6,0.12],[1297,0.054],[1297.3,0.0575],[1297.6,0.045],[1297.8,0.038],[1298.6,0.024],[1300,0.0195],[1302,0.0165],[1304,0.0165],[1306,0.017],[1307.3,0.02],[1307.8,0.05],[1308.3,0.021],[1309.5,0.018],[1311.5,0.018],[1313.5,0.02],[1315.5,0.024],[1317,0.03],[1318.2,0.042],[1319,0.064],[1319.5,0.104],[1319.8,0.18],[1320.2,T],[1323.3,T],[1323.7,0.18],[1324.1,0.104],[1324.7,0.064],[1325.6,0.042],[1327,0.028],[1329,0.021],[1331,0.0175],[1332,0.018],[1332.2,0.021],[1332.4,0.017],[1335,0.016],[1338,0.0155],[1340.2,0.0155],[1340.5,0.026],[1340.8,0.0145],[1343,0.0145],[1344.1,0.0155],[1344.4,0.035],[1344.7,0.015],[1347,0.0145],[1350,0.0145],[1353.3,0.0155],[1353.6,0.028],[1353.9,0.0155],[1356,0.0155],[1360,0.0165],[1364,0.0175],[1367.5,0.0195],[1367.7,0.021],[1367.9,0.0195],[1372,0.022],[1376,0.025],[1380,0.029],[1382,0.032],[1384,0.037],[1384.8,0.05],[1385.2,0.042],[1386.1,0.044],[1388,0.051],[1390,0.058],[1392,0.072],[1392.6,0.078],[1393.5,0.087],[1395.3,0.115],[1397,0.14],[1397.9,0.158],[1399.2,0.178],[1400,0.2],[1401,T],[1420,T],[1421.4,0.2],[1422.5,0.155],[1423.7,0.127],[1425.9,0.1],[1428.2,0.083],[1430.5,0.069],[1432.3,0.058],[1432.6,0.06],[1432.9,0.056],[1434.3,0.053],[1434.5,0.054],[1434.7,0.051],[1436.2,0.044],[1437.5,0.048],[1438.5,0.062],[1439.2,0.1],[1439.6,T],[1441.4,T],[1441.9,0.1],[1442.4,0.058],[1443.1,0.039],[1444.3,0.036],[1444.5,0.042],[1444.8,0.032],[1445.4,0.0275],[1447,0.024],[1450,0.021],[1455,0.019],[1459,0.0183],[1465,0.0175],[1470.6,0.017],[1480,0.0163],[1488.9,0.016],[1490,0.018],[1490.8,0.03],[1491.2,0.065],[1491.5,0.125],[1491.8,0.065],[1492.2,0.03],[1493,0.02],[1493.8,0.019],[1495,0.0165],[1499.4,0.016],[1500,0.016]];

// ---------- bottom-right panel ----------
const brGreen = [[1810,0.0914],[1811,0.086],[1812,0.082],[1812.7,0.081],[1813.5,0.083],[1814.1,0.088],[1814.6,0.1],[1815,0.14],[1815.2,T],[1816.2,T],[1816.5,0.14],[1816.9,0.1],[1817.3,0.088],[1817.6,0.0848],[1818,0.09],[1818.3,0.11],[1818.5,0.13],[1818.7,0.1],[1819,0.078],[1819.3,0.069],[1820,0.065],[1821.4,0.0616],[1824,0.0598],[1828.4,0.059],[1832,0.0595],[1835.4,0.0616],[1837,0.064],[1838.3,0.068],[1839.3,0.078],[1839.8,0.1],[1840,0.14],[1840.3,0.1],[1840.6,0.08],[1841.1,0.0727],[1842.5,0.074],[1843.9,0.077],[1845.3,0.081],[1846.7,0.0858],[1847.6,0.09],[1848.1,0.1],[1848.4,0.098],[1848.8,0.1],[1850,0.107],[1850.9,0.1156],[1852,0.128],[1853,0.144],[1853.8,0.152],[1853.9,0.157],[1854.1,0.155],[1855,0.167],[1855.8,0.18],[1856.3,0.22],[1857,T],[1881.5,T],[1881.9,0.2],[1882.3,0.165],[1882.8,0.1525],[1883.3,0.16],[1883.7,0.2],[1884,T],[1885,T],[1885.4,0.2],[1886,0.133],[1887.4,0.1123],[1888.5,0.107],[1889.9,0.105],[1891,0.107],[1891.6,0.111],[1892.3,0.125],[1892.7,0.144],[1893,0.2],[1893.2,T],[1894.6,T],[1894.9,0.2],[1895.3,0.15],[1895.8,0.122],[1896.5,0.114],[1897.2,0.111],[1898,0.112],[1898.6,0.13],[1898.8,0.117],[1899.2,0.117],[1900.2,0.121],[1901.4,0.128],[1902.5,0.139],[1903.5,0.153],[1904.2,0.165],[1904.9,0.18],[1905.5,0.22],[1906,T],[1910,T]];

const brBlue = [[1810,0.0793],[1811,0.074],[1812,0.071],[1812.7,0.0705],[1813.5,0.072],[1814.1,0.077],[1814.6,0.09],[1815,0.13],[1815.2,T],[1816.2,T],[1816.5,0.13],[1816.9,0.09],[1817.3,0.077],[1817.6,0.0738],[1818,0.08],[1818.3,0.1],[1818.5,0.151],[1818.7,0.09],[1819,0.068],[1819.3,0.063],[1820,0.058],[1821.4,0.054],[1824,0.051],[1828.4,0.0495],[1832,0.05],[1835.4,0.0517],[1837,0.054],[1838.3,0.057],[1839.3,0.066],[1839.8,0.09],[1840,0.1585],[1840.3,0.09],[1840.6,0.068],[1841.1,0.0623],[1842.5,0.063],[1843.9,0.066],[1845.3,0.071],[1846.7,0.077],[1847.6,0.083],[1848.1,0.1045],[1848.4,0.088],[1848.8,0.088],[1849,0.092],[1849.1,0.088],[1850,0.095],[1850.9,0.1024],[1852,0.115],[1853,0.131],[1853.8,0.141],[1853.9,0.159],[1854.1,0.141],[1855,0.155],[1856,0.172],[1856.4,0.18],[1856.8,0.22],[1857.4,T],[1881.5,T],[1881.9,0.2],[1882.4,0.15],[1883,0.135],[1883.5,0.15],[1883.8,0.2],[1884.1,T],[1885.2,T],[1885.6,0.2],[1886.2,0.13],[1887.4,0.104],[1888.5,0.097],[1889.9,0.0936],[1891,0.096],[1891.6,0.1],[1892.3,0.115],[1892.7,0.135],[1893,0.2],[1893.2,T],[1894.7,T],[1895,0.2],[1895.4,0.14],[1895.8,0.11],[1896.5,0.101],[1897.2,0.099],[1898,0.1],[1898.5,0.105],[1898.6,0.163],[1898.8,0.104],[1899.2,0.104],[1900.2,0.108],[1901.4,0.114],[1902.5,0.125],[1903.3,0.135],[1903.5,0.1376],[1904.2,0.15],[1904.6,0.16],[1905.3,0.18],[1905.8,0.22],[1906.3,T],[1910,T]];

const brRed = [[1810,0.0755],[1811,0.07],[1812,0.067],[1812.7,0.066],[1813.5,0.068],[1814.1,0.073],[1814.6,0.087],[1815,0.13],[1815.2,T],[1816.2,T],[1816.5,0.13],[1816.9,0.087],[1817.3,0.072],[1817.6,0.0682],[1818,0.075],[1818.3,0.09],[1818.5,0.1145],[1818.7,0.085],[1819,0.063],[1819.3,0.058],[1820,0.053],[1821.4,0.0495],[1824,0.046],[1828.4,0.044],[1832,0.0445],[1835.4,0.0462],[1837,0.048],[1838.3,0.0517],[1839.3,0.06],[1839.8,0.085],[1840,0.118],[1840.3,0.085],[1840.6,0.062],[1841.1,0.057],[1842.5,0.058],[1843.9,0.0605],[1845.3,0.066],[1846.7,0.0727],[1847.6,0.079],[1848.1,0.0957],[1848.4,0.085],[1848.8,0.0848],[1850,0.091],[1850.9,0.098],[1852,0.11],[1853,0.124],[1853.9,0.136],[1855,0.15],[1856,0.168],[1856.5,0.18],[1857,0.22],[1857.6,T],[1881.5,T],[1881.9,0.2],[1882.4,0.15],[1883,0.1336],[1883.5,0.15],[1883.8,0.2],[1884.1,T],[1885.2,T],[1885.6,0.2],[1886.2,0.125],[1887.4,0.099],[1888.5,0.092],[1889.9,0.0892],[1891,0.092],[1891.6,0.098],[1892.3,0.112],[1892.7,0.13],[1893,0.2],[1893.2,T],[1894.7,T],[1895,0.2],[1895.4,0.135],[1895.8,0.105],[1896.5,0.097],[1897.2,0.0957],[1898,0.097],[1898.6,0.1223],[1898.8,0.1],[1899.2,0.1],[1900.2,0.104],[1901.4,0.109],[1902.5,0.12],[1903.5,0.134],[1904.2,0.148],[1904.8,0.165],[1905.3,0.18],[1905.8,0.22],[1906.3,T],[1910,T]];

// ---------- layout / styling ----------
const FONT = '"Liberation Mono", "Courier New", monospace';
const TXT = '#333';
const COL = {ATRAN: '#ff0000', MOLIERE: '#00dd00', AM: '#0000ff'};
const panels = [
  {grid: {left: 151, top: 9, width: 728, height: 273}, x: [1250, 1500], xt: xTicksLeft, xl: false, yl: true, data: [tlRed, tlGreen, tlBlue]},
  {grid: {left: 879, top: 9, width: 727, height: 273}, x: [1810, 1910], xt: xTicksRight, xl: false, yl: false, data: [trRed, trGreen, trBlue]},
  {grid: {left: 151, top: 282, width: 728, height: 273}, x: [1250, 1500], xt: xTicksLeft, xl: true, yl: true, data: [blRed, blGreen, blBlue]},
  {grid: {left: 879, top: 282, width: 727, height: 273}, x: [1810, 1910], xt: xTicksRight, xl: true, yl: false, data: [brRed, brGreen, brBlue]}
];
const fmt = v => String(v);
const axLine = {show: true, onZero: false, lineStyle: {color: '#000', width: 1.5}};
const tickStyle = {color: '#000', width: 1.5};
const grids = [], xAxes = [], yAxes = [], series = [];
panels.forEach((p, g) => {
  grids.push(p.grid);
  ['bottom', 'top'].forEach((pos, k) => {
    xAxes.push({type: 'value', gridIndex: g, position: pos, min: p.x[0], max: p.x[1],
      axisLine: axLine, splitLine: {show: false},
      axisTick: {show: true, inside: true, length: 14, lineStyle: tickStyle, customValues: p.xt},
      axisLabel: {show: p.xl && k === 0, customValues: p.xt, formatter: fmt, margin: 18, color: TXT, fontFamily: FONT, fontSize: 30}});
  });
  ['left', 'right'].forEach((pos, k) => {
    yAxes.push({type: 'value', gridIndex: g, position: pos, min: 0, max: 0.18,
      axisLine: axLine, splitLine: {show: false},
      axisTick: {show: true, inside: true, length: 14, lineStyle: tickStyle, customValues: yTicks},
      axisLabel: {show: p.yl && k === 0, customValues: yTicks, formatter: fmt, margin: 23, color: TXT, fontFamily: FONT, fontSize: 30}});
  });
  seriesNames.forEach((nm, i) => {
    series.push({type: 'line', name: nm, xAxisIndex: 2 * g, yAxisIndex: 2 * g, data: p.data[i],
      showSymbol: false, symbol: 'none', clip: true, silent: true, animation: false,
      lineStyle: {color: COL[nm], width: 1.5}, z: 2 + i});
  });
});

const legendRows = [['MOLIERE', 466], ['AM', 498], ['ATRAN', 528]];
const graphics = [
  {type: 'text', x: 27, y: 145, rotation: Math.PI / 2, style: {text: 'opacity', font: '30px ' + FONT, fill: TXT, align: 'center', verticalAlign: 'middle'}},
  {type: 'text', x: 27, y: 418, rotation: Math.PI / 2, style: {text: 'opacity', font: '30px ' + FONT, fill: TXT, align: 'center', verticalAlign: 'middle'}},
  {type: 'text', x: 143, y: 588, style: {text: 'f =', font: '30px ' + FONT, fill: TXT, align: 'left', verticalAlign: 'middle'}},
  {type: 'text', x: 1586, y: 588, style: {text: 'GHz', font: '30px ' + FONT, fill: TXT, align: 'left', verticalAlign: 'middle'}}
];
legendRows.forEach(([nm, y]) => {
  graphics.push({type: 'text', x: 1465, y: y, style: {text: nm, font: '30px ' + FONT, fill: TXT, align: 'right', verticalAlign: 'middle'}});
  graphics.push({type: 'line', shape: {x1: 1482, y1: y, x2: 1568, y2: y}, style: {stroke: COL[nm], lineWidth: 1.5}});
});

const chart = echarts.init(document.getElementById('c'), null, {renderer: 'canvas'});
chart.setOption({
  animation: false, backgroundColor: '#fff',
  grid: grids, xAxis: xAxes, yAxis: yAxes, series: series, graphic: graphics
});
</script></body></html>
